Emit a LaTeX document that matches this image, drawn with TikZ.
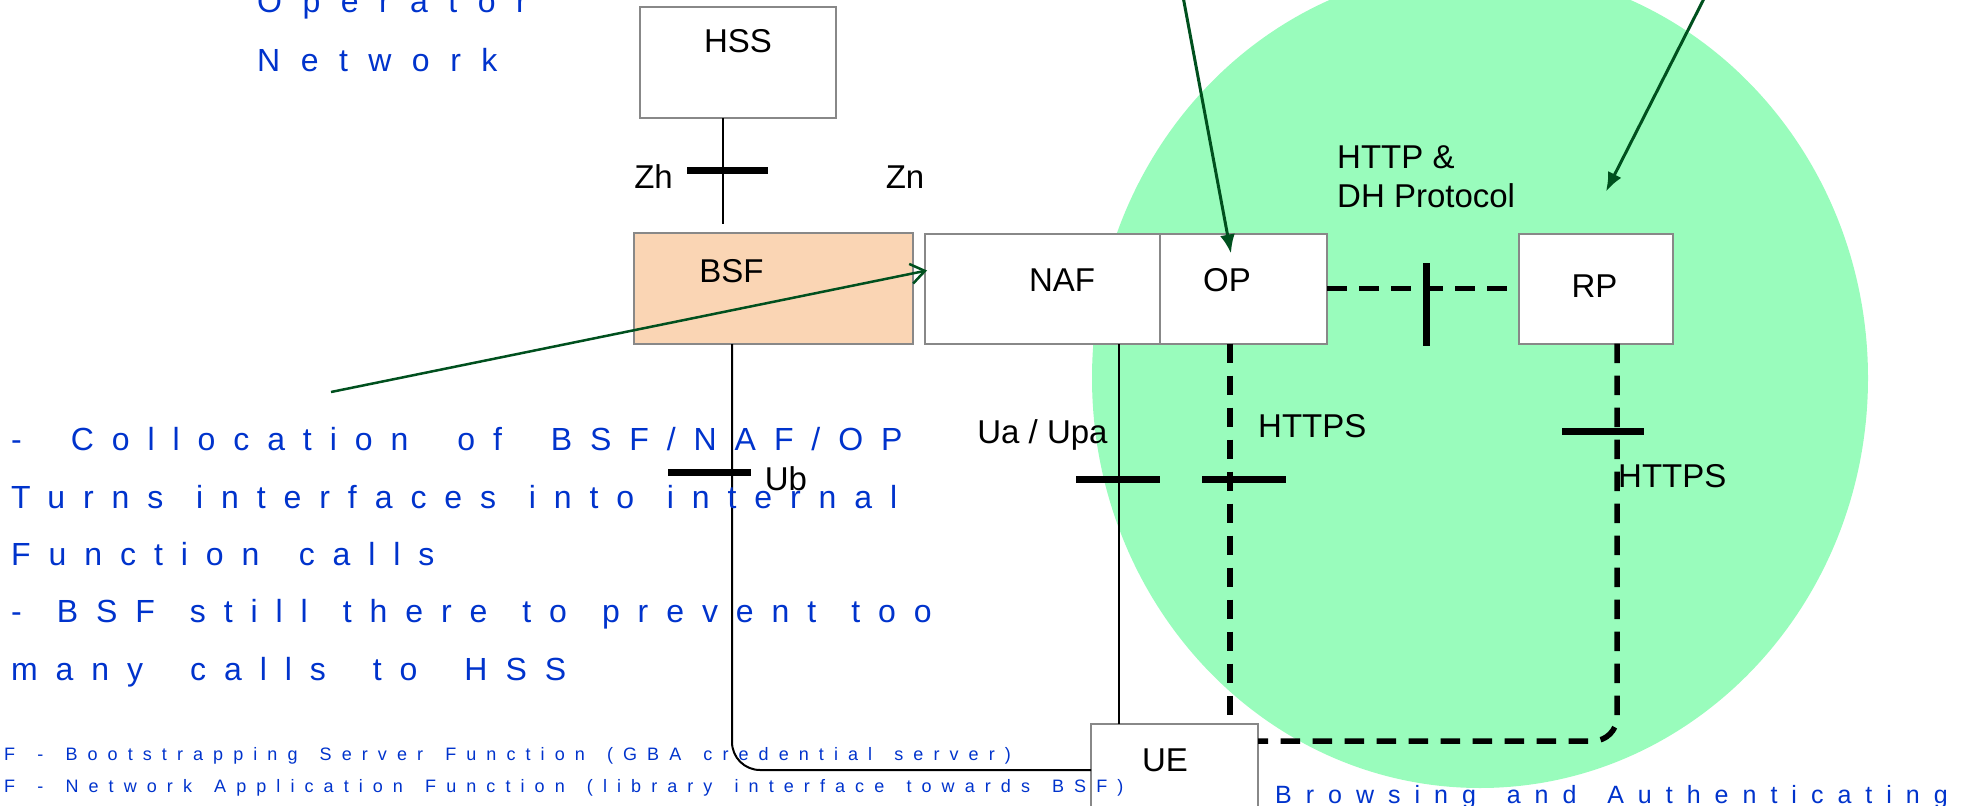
\documentclass[tikz,border=0pt]{standalone}
\usepackage{fontspec}
\setmainfont{Liberation Sans}
\newfontfamily\notefont[LetterSpace=56,WordSpace=1.47]{Liberation Sans}
\newfontfamily\widenotefont[LetterSpace=64]{Liberation Sans}
\usetikzlibrary{arrows.meta,positioning}

\definecolor{cloud}{RGB}{153,252,188}
\definecolor{peach}{RGB}{250,213,180}
\definecolor{notecol}{RGB}{0,51,204}
\definecolor{pointer}{RGB}{0,80,30}
\definecolor{frame}{RGB}{136,136,136}

\tikzset{
  box/.style={draw=frame, line width=2pt, fill=white, inner sep=0pt, outer sep=0pt},
  lbl/.style={font=\fontsize{33}{38}\selectfont, inner sep=0pt},
  tag/.style={lbl, anchor=base},
  remark/.style={text=notecol, inner sep=0pt, anchor=base west,
                 font=\notefont\fontsize{#1}{#1}\selectfont},
  remark/.default=32,
  wire/.style={line width=2pt},
  secure/.style={line width=5.5pt, dash pattern=on 19.5pt off 12.5pt},
  bar/.style={line width=7pt},
  callout/.style={draw=pointer, line width=3pt, -{Latex[length=19pt,width=15pt]}}
}

\begin{document}
\begin{tikzpicture}[x=1pt, y=-1pt]
  \useasboundingbox (0,0) rectangle (1974,806);

  % area of the browser side
  \fill[cloud] (1480,378) ellipse [x radius=388pt, y radius=410pt];

  \node[box, minimum width=196pt, minimum height=111pt,
        label={[lbl, shift={(0,-21)}]center:HSS}]         (HSS) at (738,62.5)   {};
  \node[box, fill=peach, minimum width=279pt, minimum height=111pt,
        label={[lbl, shift={(-42,-17)}]center:BSF}]       (BSF) at (773.5,288.5) {};
  \node[box, minimum width=235pt, minimum height=110pt,
        label={[lbl, shift={(19.5,-8.5)}]center:NAF}]     (NAF) [right=12pt of BSF] {};
  \node[box, minimum width=167pt, minimum height=110pt,
        label={[lbl, shift={(-16.5,-8.5)}]center:OP}]     (OP)  [right=0pt of NAF]  {};
  \node[box, minimum width=154pt, minimum height=110pt,
        label={[lbl, shift={(-1.5,-2)}]center:RP}]        (RP)  [right=192pt of OP] {};
  \node[box, minimum width=167pt, minimum height=92pt,
        label={[lbl, shift={(-9.5,-10)}]center:UE}]       (UE)  at (1174.5,770)  {};

  % reference points
  \draw[wire, shorten >=9pt] ([shift={(-15,0)}]HSS.south) -- ([shift={(-15,0)}]HSS.south |- BSF.north);
  \draw[wire, rounded corners=28pt] ([shift={(-41.5,0)}]BSF.south) |- (UE.west);
  \draw[wire] ([shift={(-55.5,0)}]UE.north) -- ([shift={(-55.5,0)}]UE.north |- NAF.south);
  \draw[secure] ([shift={(-13.5,0)}]OP.south) -- ([shift={(-13.5,0)}]OP.south |- UE.north);
  \draw[secure] (OP.east) -- (RP.west);
  \draw[secure, rounded corners=24pt] ([shift={(21,0)}]RP.south) |- ([shift={(0,-29)}]UE.east);

  % interface bars
  \draw[bar] (687,170) -- (768,170);
  \draw[bar] (668,472) -- (751,472);
  \draw[bar] (1076,479) -- (1160,479);
  \draw[bar] (1202,479) -- (1286,479);
  \draw[bar] (1426,263) -- (1426,346);
  \draw[bar] (1562,431) -- (1644,431);

  % pointers from the notes
  \coordinate (opnote)  at (1179,-25);
  \coordinate (rpnote)  at (1716,-25);
  \coordinate (bsfnote) at (331,392);
  \draw[callout] (opnote) -- ([shift={(-12.5,20)}]OP.north);
  \draw[callout] (rpnote) -- ([shift={(10,-42)}]RP.north);
  \draw[callout, line width=2.5pt, -{Straight Barb[length=14pt,width=20pt]}]
    (bsfnote) -- ([shift={(2,-18)}]NAF.west);

  \node[tag] (Zh) at (653.5,188) {Zh};
  \node[tag] (Zn) at (905,188)   {Zn};
  \node[tag] (Ub) at (786,490)   {Ub};
  \node[tag] (Ua) at (1042.5,443) {Ua / Upa};
  \node[tag, anchor=base west] (dhA)    at (1337,168) {HTTP \&};
  \node[tag, anchor=base west] (dhB)    at (1337,207) {DH Protocol};
  \node[tag, anchor=base west] (httpsA) at (1258,437) {HTTPS};
  \node[tag, anchor=base west] (httpsB) at (1618,487) {HTTPS};

  \node[remark, font=\widenotefont\fontsize{32}{32}\selectfont] (opA) at (257,12) {Operator};
  \node[remark, font=\widenotefont\fontsize{32}{32}\selectfont] (opB) at (257,71) {Network};
  \node[remark] (cA)  at (11,450)  {\spaceskip=49pt\relax - Collocation of BSF/NAF/OP};
  \node[remark] (cB)  at (11,508)  {\spaceskip=32.7pt\relax Turns interfaces into internal};
  \node[remark] (cC)  at (11,565)  {Function calls};
  \node[remark] (cD)  at (11,622)  {\spaceskip=35pt\relax - BSF still there to prevent too};
  \node[remark] (cE)  at (11,680)  {\spaceskip=47pt\relax many calls to HSS};
  \node[remark=18] (fA) at (4,760) {F - Bootstrapping Server Function (GBA credential server)};
  \node[remark=18] (fB) at (4,792) {F - Network Application Function (library interface towards BSF)};
  \node[remark=25] (ba) at (1275,803) {Browsing and Authenticating};
\end{tikzpicture}
\end{document}
